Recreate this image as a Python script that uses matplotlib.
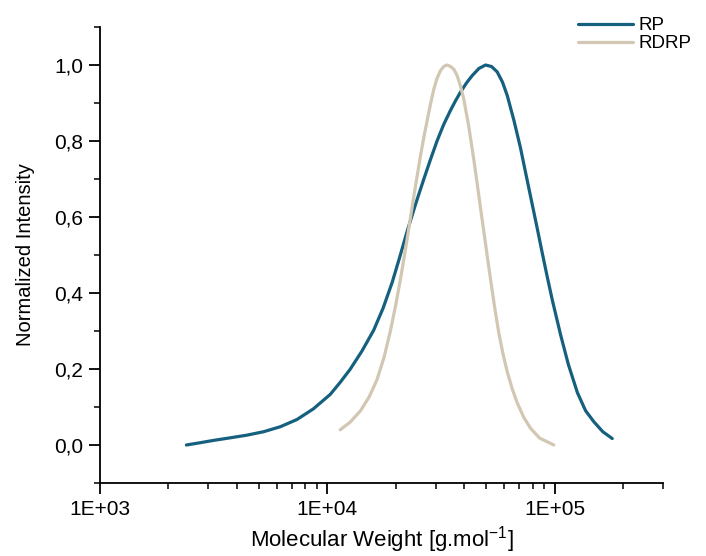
import matplotlib
matplotlib.use("Agg")
import matplotlib.pyplot as plt
from matplotlib.ticker import FixedLocator, LogLocator, FuncFormatter, MultipleLocator, NullFormatter

plt.rcParams['font.family'] = ['Liberation Sans', 'DejaVu Sans']

# Data (molecular weight in g/mol, normalized intensity)
rp_mw = [2400, 2760, 3150, 3750, 4440, 5250, 6210, 7350, 8680, 10300, 11400, 12600,
         14200, 16000, 17600, 19300, 20800, 22400, 24500, 26600, 28400, 30400, 32500,
         34800, 36600, 38500, 41000, 43400, 46500, 49700, 52800, 55900, 59000, 61900,
         66200, 70800, 74500, 79000, 83900, 88300, 92900, 97700, 106300, 115000,
         126000, 137000, 149000, 163000, 179400]
rp_int = [0.0, 0.006, 0.012, 0.019, 0.026, 0.035, 0.048, 0.067, 0.095, 0.133, 0.165, 0.199,
          0.247, 0.302, 0.360, 0.428, 0.493, 0.560, 0.635, 0.70, 0.75, 0.80, 0.843,
          0.880, 0.905, 0.928, 0.953, 0.972, 0.991, 1.0, 0.996, 0.982, 0.955, 0.920,
          0.855, 0.782, 0.718, 0.645, 0.570, 0.505, 0.442, 0.382, 0.29, 0.212,
          0.138, 0.090, 0.061, 0.035, 0.017]

rdrp_mw = [11400, 12600, 14000, 15300, 16550, 17800, 18950, 20000, 20970, 21900, 22810,
           23600, 24420, 25690, 26600, 27490, 28400, 29390, 30400, 31470, 32500, 33680,
           34900, 36100, 37270, 38500, 39850, 41930, 44110, 45650, 47200, 48810, 50500,
           52250, 54500, 56840, 59300, 61900, 65100, 68500, 73000, 78400, 86000, 99300]
rdrp_int = [0.040, 0.060, 0.090, 0.127, 0.172, 0.232, 0.300, 0.368, 0.435, 0.502, 0.568,
            0.625, 0.68, 0.76, 0.81, 0.853, 0.895, 0.935, 0.965, 0.985, 0.996, 1.0,
            0.996, 0.988, 0.972, 0.946, 0.911, 0.838, 0.752, 0.688, 0.625, 0.563, 0.499,
            0.437, 0.362, 0.295, 0.240, 0.193, 0.148, 0.111, 0.074, 0.044, 0.018, 0.0]

series_labels = ["RP", "RDRP"]
x_ticks = [1e3, 1e4, 1e5]
x_tick_labels = ["1E+03", "1E+04", "1E+05"]

fig = plt.figure(figsize=(7.06, 5.56), dpi=100)
ax = fig.add_axes([100/706, 1-483/556, (663-100)/706, (483-27)/556])

ax.plot(rp_mw, rp_int, color="#15607f", lw=2.3, label=series_labels[0],
        solid_capstyle='round', solid_joinstyle='round')
ax.plot(rdrp_mw, rdrp_int, color="#d1c7b2", lw=2.3, label=series_labels[1],
        solid_capstyle='round', solid_joinstyle='round')

ax.set_xscale('log')
ax.set_xlim(1000, 3e5)
ax.set_ylim(-0.1, 1.1)

ax.xaxis.set_major_locator(FixedLocator(x_ticks))
ax.xaxis.set_major_formatter(FuncFormatter(lambda v, p: x_tick_labels[x_ticks.index(v)] if v in x_ticks else ""))
ax.xaxis.set_minor_locator(LogLocator(base=10, subs=range(2, 10), numticks=20))
ax.xaxis.set_minor_formatter(NullFormatter())

ax.yaxis.set_major_locator(FixedLocator([0.0, 0.2, 0.4, 0.6, 0.8, 1.0]))
ax.yaxis.set_minor_locator(MultipleLocator(0.1))
ax.yaxis.set_major_formatter(FuncFormatter(lambda v, p: f"{v:.1f}".replace('.', ',')))

for s in ['top', 'right']:
    ax.spines[s].set_visible(False)
for s in ['left', 'bottom']:
    ax.spines[s].set_linewidth(1.3)

ax.tick_params(which='major', direction='out', length=8, width=1.3, labelsize=15, colors='black', pad=4)
ax.tick_params(which='minor', direction='out', length=4, width=1.1)

ax.set_xlabel("Molecular Weight [g.mol$^{\\mathregular{-1}}$]", fontsize=16, labelpad=4)
ax.set_ylabel("Normalized Intensity", fontsize=14.5, labelpad=14)

leg = fig.legend(loc='upper left', bbox_to_anchor=(578/706, 1-17/556), frameon=False,
                 fontsize=13.5, handlelength=2.95, handletextpad=0.25, labelspacing=0.05,
                 borderpad=0, borderaxespad=0)

fig.savefig("out.png", dpi=100)
